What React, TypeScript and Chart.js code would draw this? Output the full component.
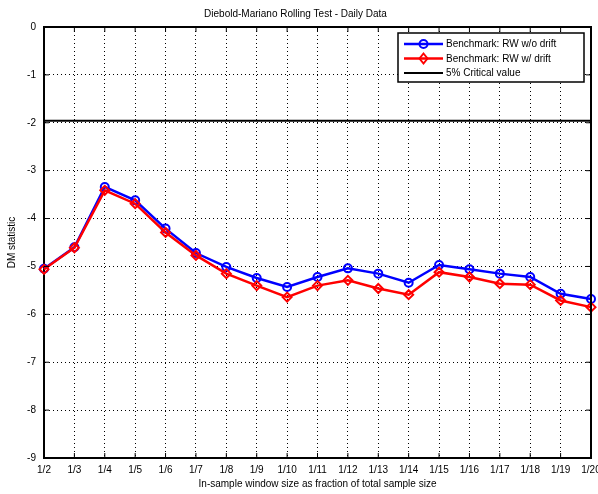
import React, { useEffect, useRef } from "react";
import { Chart, registerables } from "chart.js";

Chart.register(...registerables);

const categories = [
  "1/2", "1/3", "1/4", "1/5", "1/6", "1/7", "1/8", "1/9", "1/10", "1/11",
  "1/12", "1/13", "1/14", "1/15", "1/16", "1/17", "1/18", "1/19", "1/20",
];

const rwNoDrift = [
  -5.05, -4.6, -3.34, -3.62, -4.21, -4.72, -5.01, -5.24, -5.43, -5.22,
  -5.04, -5.15, -5.34, -4.97, -5.06, -5.15, -5.22, -5.57, -5.68,
];

const rwDrift = [
  -5.06, -4.61, -3.41, -3.69, -4.29, -4.77, -5.15, -5.4, -5.64, -5.4,
  -5.29, -5.46, -5.59, -5.12, -5.22, -5.36, -5.38, -5.71, -5.85,
];

const criticalValue = [
  -1.96, -1.96, -1.96, -1.96, -1.96, -1.96, -1.96, -1.96, -1.96, -1.96,
  -1.96, -1.96, -1.96, -1.96, -1.96, -1.96, -1.96, -1.96, -1.96,
];

const legendLabels = [
  "Benchmark: RW w/o drift",
  "Benchmark: RW w/ drift",
  "5% Critical value",
];

const titleText = "Diebold-Mariano Rolling Test - Daily Data";
const xTitle = "In-sample window size as fraction of total sample size";
const yTitle = "DM statistic";

const FONT = "'Liberation Sans', Arial, sans-serif";
const FS = 10;

const boxPlugin = {
  id: "matlabBox",
  afterDatasetsDraw(chart: any) {
    const { ctx, chartArea, scales } = chart;
    const { left, right, top, bottom } = chartArea;
    ctx.save();
    // box top/right
    ctx.strokeStyle = "#000";
    ctx.lineWidth = 2;
    ctx.beginPath();
    ctx.moveTo(left, top);
    ctx.lineTo(right, top);
    ctx.lineTo(right, bottom);
    ctx.stroke();
    // inner ticks
    ctx.lineWidth = 1;
    const xs = scales.x;
    for (let i = 0; i < categories.length; i++) {
      const px = xs.getPixelForValue(i);
      ctx.beginPath();
      ctx.moveTo(px, bottom);
      ctx.lineTo(px, bottom - 5);
      ctx.moveTo(px, top);
      ctx.lineTo(px, top + 5);
      ctx.stroke();
    }
    const ys = scales.y;
    ys.ticks.forEach((t: any) => {
      const py = ys.getPixelForValue(t.value);
      ctx.beginPath();
      ctx.moveTo(left, py);
      ctx.lineTo(left + 5, py);
      ctx.moveTo(right, py);
      ctx.lineTo(right - 5, py);
      ctx.stroke();
    });

    // legend
    const lx = 398, ly = 33, lw = 186, lh = 49;
    ctx.fillStyle = "#fff";
    ctx.fillRect(lx, ly, lw, lh);
    ctx.strokeStyle = "#000";
    ctx.lineWidth = 1.5;
    ctx.strokeRect(lx, ly, lw, lh);
    const rows = [44, 58.5, 73];
    const colors = ["#0000ff", "#ff0000", "#000000"];
    ctx.font = `${FS}px ${FONT}`;
    ctx.textBaseline = "middle";
    ctx.textAlign = "left";
    rows.forEach((ry, i) => {
      ctx.strokeStyle = colors[i];
      ctx.lineWidth = i === 2 ? 2 : 2.5;
      ctx.beginPath();
      ctx.moveTo(404, ry);
      ctx.lineTo(443, ry);
      ctx.stroke();
      const cx = 423.5;
      ctx.lineWidth = 2;
      if (i === 0) {
        ctx.beginPath();
        ctx.arc(cx, ry, 4, 0, Math.PI * 2);
        ctx.stroke();
      } else if (i === 1) {
        ctx.beginPath();
        ctx.moveTo(cx, ry - 5);
        ctx.lineTo(cx + 4, ry);
        ctx.lineTo(cx, ry + 5);
        ctx.lineTo(cx - 4, ry);
        ctx.closePath();
        ctx.stroke();
      }
      ctx.fillStyle = "#000";
      ctx.fillText(legendLabels[i], 446, ry + 0.5);
    });
    ctx.restore();
  },
};

export default function App() {
  const ref = useRef<HTMLCanvasElement | null>(null);

  useEffect(() => {
    if (!ref.current) return;
    const chart = new Chart(ref.current, {
      type: "line",
      data: {
        labels: categories,
        datasets: [
          {
            label: legendLabels[0],
            data: rwNoDrift,
            borderColor: "#0000ff",
            backgroundColor: "rgba(0,0,0,0)",
            borderWidth: 2.5,
            pointStyle: "circle",
            pointRadius: 4,
            pointBorderWidth: 2,
            pointBorderColor: "#0000ff",
            pointBackgroundColor: "rgba(0,0,0,0)",
            tension: 0,
            order: 2,
          },
          {
            label: legendLabels[1],
            data: rwDrift,
            borderColor: "#ff0000",
            backgroundColor: "rgba(0,0,0,0)",
            borderWidth: 2.5,
            pointStyle: "rectRot",
            pointRadius: 4.5,
            pointBorderWidth: 2,
            pointBorderColor: "#ff0000",
            pointBackgroundColor: "rgba(0,0,0,0)",
            tension: 0,
            order: 1,
          },
          {
            label: legendLabels[2],
            data: criticalValue,
            borderColor: "#000000",
            borderWidth: 2,
            pointRadius: 0,
            tension: 0,
            order: 3,
          },
        ],
      },
      options: {
        animation: false,
        responsive: false,
        devicePixelRatio: 1,
        layout: { padding: { top: 0, right: 7, left: 0, bottom: 0 } },
        plugins: {
          legend: { display: false },
          tooltip: { enabled: false },
          title: {
            display: true,
            text: titleText,
            color: "#000",
            font: { family: FONT, size: FS, weight: "normal" },
            padding: { top: 8, bottom: 7 },
          },
        },
        scales: {
          x: {
            type: "category",
            offset: false,
            grid: { color: "#000", lineWidth: 1, drawTicks: false },
            border: { display: true, color: "#000", width: 2, dash: [1, 3] },
            ticks: {
              color: "#000",
              font: { family: FONT, size: FS },
              padding: 6,
              autoSkip: false,
              maxRotation: 0,
            },
            title: {
              display: true,
              text: xTitle,
              color: "#000",
              font: { family: FONT, size: FS },
              padding: { top: 0, bottom: 4 },
            },
            afterFit(s: any) {
              s.height = 36;
              s.paddingLeft = 0;
              s.paddingRight = 0;
            },
          },
          y: {
            type: "linear",
            min: -9,
            max: 0,
            grid: { color: "#000", lineWidth: 1, drawTicks: false },
            border: { display: true, color: "#000", width: 2, dash: [1, 3] },
            ticks: {
              stepSize: 1,
              color: "#000",
              font: { family: FONT, size: FS },
              padding: 8,
            },
            title: {
              display: true,
              text: yTitle,
              color: "#000",
              font: { family: FONT, size: FS },
              padding: { top: 6, bottom: 0 },
            },
            afterFit(s: any) {
              s.width = 44;
              s.paddingTop = 0;
              s.paddingBottom = 0;
            },
          },
        },
      },
      plugins: [boxPlugin],
    });
    return () => chart.destroy();
  }, []);

  return (
    <div style={{ position: "fixed", left: 0, top: 0, width: 598, height: 494, background: "#fff" }}>
      <canvas ref={ref} width={598} height={494} style={{ display: "block" }} />
    </div>
  );
}
